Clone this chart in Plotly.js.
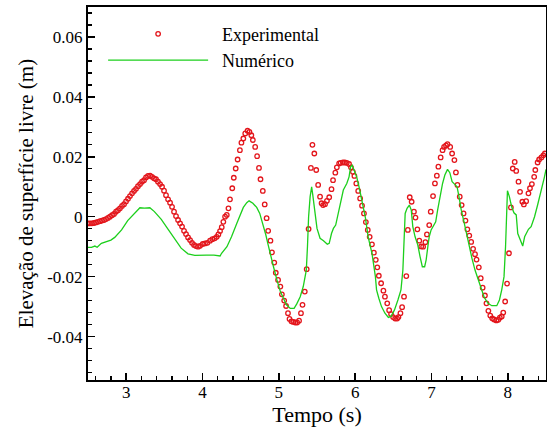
<!DOCTYPE html>
<html>
<head>
<meta charset="utf-8">
<script src="https://cdn.plot.ly/plotly-3.0.1.min.js"></script>
<style>html,body{margin:0;padding:0;background:#fff;}#chart{width:547px;height:427px;}</style>
</head>
<body>
<div id="chart"></div>
<script>
// Experimental data (time in s, elevation in m)
const expTime = [2.500,2.526,2.552,2.579,2.605,2.631,2.657,2.683,2.710,2.736,2.762,2.788,2.815,2.841,2.867,2.893,2.919,2.946,2.972,2.998,3.024,3.050,3.077,3.103,3.129,3.155,3.182,3.208,3.234,3.260,3.286,3.313,3.339,3.365,3.391,3.417,3.444,3.470,3.496,3.522,3.549,3.575,3.601,3.627,3.653,3.680,3.706,3.732,3.758,3.784,3.811,3.837,3.863,3.889,3.915,3.942,3.968,
4.003,4.033,4.064,4.099,4.129,4.160,4.187,4.208,4.230,4.252,4.273,4.296,4.318,4.34,4.36,4.39,4.41,4.435,4.46,4.49,4.51,4.535,4.56,4.59,4.615,4.64,4.66,4.69,4.715,4.74,4.76,4.79,4.815,4.84,4.86,4.89,4.91,4.94,4.96,4.99,5.02,5.04,5.07,5.095,5.12,5.14,5.165,5.19,5.215,5.24,5.265,5.29,5.31,5.34,5.365,5.39,5.42,5.44,5.465,5.49,5.515,5.54,5.56,5.58,5.605,5.63,5.66,5.69,5.71,5.74,5.76,5.79,5.81,5.84,5.865,5.89,5.92,5.945,5.97,5.99,6.015,6.04,6.065,6.09,6.115,6.14,6.165,6.19,6.22,6.245,6.27,6.29,6.31,6.34,6.37,6.39,6.42,6.445,6.47,6.497,6.524,6.55,6.567,6.593,6.615,6.64,6.67,6.69,6.715,6.74,6.77,6.79,6.815,6.84,6.865,6.89,6.92,6.94,6.97,6.99,7.02,7.045,7.07,7.09,7.12,7.145,7.165,7.19,7.21,7.245,7.27,7.30,7.32,7.34,7.37,7.395,7.42,7.445,7.47,7.495,7.52,7.545,7.57,7.59,7.62,7.645,7.67,7.70,7.72,7.745,7.77,7.795,7.82,7.85,7.875,7.895,7.92,7.94,7.965,7.99,8.015,8.04,8.065,8.09,8.11,8.14,8.16,8.19,8.21,8.24,8.27,8.29,8.315,8.345,8.36,8.39,8.41,8.44,8.465,8.485];
const expElev = [-0.0022,-0.0022,-0.0022,-0.0021,-0.0019,-0.0017,-0.0015,-0.0013,-0.0011,-0.0008,-0.0004,0.0,0.0005,0.0009,0.0017,0.0022,0.0028,0.0036,0.0042,0.0051,0.0060,0.0069,0.0078,0.0086,0.0093,0.0102,0.0109,0.0117,0.0122,0.0131,0.0136,0.0137,0.0133,0.0128,0.0125,0.0117,0.0109,0.0100,0.0087,0.0072,0.0058,0.0047,0.0033,0.0017,0.0002,-0.0011,-0.0022,-0.0033,-0.0047,-0.0058,-0.0069,-0.0078,-0.0087,-0.0094,-0.0098,-0.0100,-0.0097,
-0.0091,-0.0089,-0.0087,-0.0080,-0.0075,-0.0072,-0.0067,-0.0059,-0.0048,-0.0035,-0.0017,0.0,0.0006,0.0028,0.0058,0.0095,0.0130,0.0161,0.0191,0.0222,0.0247,0.0261,0.0278,0.0287,0.0283,0.0272,0.0256,0.0233,0.0202,0.0163,0.0125,0.0086,0.0041,-0.0005,-0.0047,-0.0080,-0.0119,-0.0153,-0.0187,-0.0211,-0.0233,-0.0259,-0.0280,-0.0298,-0.0322,-0.0341,-0.0349,-0.0351,-0.0353,-0.0353,-0.0347,-0.0322,-0.0294,-0.0250,-0.0175,-0.0041,0.0163,0.0240,0.0211,0.0156,0.0106,0.0067,0.0045,0.0039,0.0042,0.0053,0.0065,0.0092,0.0122,0.0147,0.0165,0.0178,0.0180,0.0181,0.0181,0.0180,0.0176,0.0165,0.0150,0.0136,0.0111,0.0086,0.0061,0.0037,0.0011,-0.0018,-0.0044,-0.0067,-0.0092,-0.0120,-0.0144,-0.0169,-0.0197,-0.0222,-0.0247,-0.0267,-0.0289,-0.0312,-0.0325,-0.0335,-0.0340,-0.0340,-0.0335,-0.0322,-0.0302,-0.0267,-0.0198,-0.0044,0.0065,0.0050,0.0017,-0.0003,-0.0042,-0.0080,-0.0099,-0.0100,-0.0085,-0.0059,-0.0028,0.0017,0.0069,0.0111,0.0137,0.0167,0.0198,0.0222,0.0233,0.0238,0.0242,0.0233,0.0211,0.0189,0.0148,0.0106,0.0067,0.0039,0.0011,-0.0013,-0.0042,-0.0063,-0.0084,-0.0107,-0.0125,-0.0143,-0.0169,-0.0205,-0.0237,-0.0263,-0.0289,-0.0314,-0.0330,-0.0339,-0.0343,-0.0346,-0.0344,-0.0337,-0.0333,-0.0320,-0.0283,-0.0223,-0.0122,0.0031,0.0161,0.0183,0.0153,0.0117,0.0083,0.0050,0.0041,0.0052,0.0078,0.0095,0.0109,0.0133,0.0156,0.0181,0.0191,0.0198,0.0205,0.0211];

// Numerical results
const numTime = [2.50,2.545,2.59,2.62,2.675,2.72,2.76,2.80,2.85,2.94,3.02,3.11,3.18,3.24,3.31,3.37,3.46,3.55,3.64,3.72,3.81,3.90,4.05,4.15,4.23,4.25,4.32,4.38,4.45,4.49,4.535,4.58,4.61,4.66,4.71,4.75,4.79,4.83,4.86,4.89,4.93,4.975,5.02,5.06,5.10,5.15,5.20,5.235,5.28,5.32,5.36,5.375,5.39,5.41,5.43,5.445,5.47,5.50,5.54,5.585,5.635,5.66,5.69,5.715,5.745,5.78,5.81,5.845,5.89,5.92,5.94,5.96,5.985,6.02,6.055,6.09,6.135,6.17,6.22,6.265,6.28,6.31,6.345,6.39,6.435,6.47,6.515,6.56,6.60,6.625,6.64,6.655,6.68,6.71,6.735,6.755,6.785,6.82,6.85,6.88,6.91,6.93,6.955,6.97,6.995,7.025,7.055,7.08,7.11,7.145,7.175,7.21,7.24,7.27,7.305,7.335,7.36,7.39,7.43,7.465,7.505,7.53,7.57,7.615,7.65,7.69,7.74,7.79,7.855,7.89,7.92,7.95,7.97,7.995,8.02,8.05,8.08,8.11,8.13,8.165,8.195,8.22,8.27,8.305,8.35,8.39,8.435,8.48,8.50];
const numElev = [-0.0102,-0.0102,-0.0098,-0.0102,-0.0089,-0.0085,-0.0083,-0.0078,-0.0069,-0.0044,-0.0013,0.0013,0.0030,0.0029,0.0030,0.0017,-0.0009,-0.0042,-0.0075,-0.0105,-0.0124,-0.0129,-0.0128,-0.0128,-0.0131,-0.0122,-0.0100,-0.0067,-0.0022,0.0006,0.0031,0.0047,0.0053,0.0045,0.0031,0.0011,-0.0022,-0.0061,-0.0094,-0.0128,-0.0167,-0.0211,-0.0250,-0.0272,-0.0294,-0.0306,-0.0306,-0.0291,-0.0267,-0.0233,-0.0178,-0.0100,0.0,0.0067,0.0100,0.0072,0.0011,-0.0039,-0.0072,-0.0080,-0.0092,-0.0089,-0.0056,-0.0039,-0.0028,0.0017,0.0056,0.0089,0.0111,0.0133,0.0167,0.0172,0.0156,0.0133,0.0095,0.0050,-0.0005,-0.0067,-0.0122,-0.0200,-0.0244,-0.0272,-0.0300,-0.0322,-0.0336,-0.0333,-0.0311,-0.0278,-0.0244,-0.0178,-0.0078,0.0011,0.0028,0.0039,0.0022,-0.0033,-0.0067,-0.0094,-0.0133,-0.0167,-0.0167,-0.0144,-0.0094,-0.0067,-0.0044,-0.0028,-0.0017,0.0022,0.0067,0.0111,0.0139,0.0158,0.0147,0.0117,0.0108,0.0100,0.0067,0.0022,-0.0022,-0.0067,-0.0117,-0.0139,-0.0178,-0.0211,-0.0244,-0.0269,-0.0289,-0.0297,-0.0297,-0.0278,-0.0244,-0.0200,-0.0100,0.0087,0.0067,0.0033,0.0013,0.0006,-0.0056,-0.0078,-0.0098,-0.0067,-0.0042,-0.0033,0.0,0.0039,0.0083,0.0133,0.0158];

const yTickVals = [-0.04,-0.02,0,0.02,0.04,0.06];
const yTickLabels = ['-0.04','-0.02','0','0.02','0.04','0.06'];
const xTickVals = [3,4,5,6,7,8];
const xTickLabels = ['3','4','5','6','7','8'];
const seriesNames = ['Experimental','Numérico'];

const font = '"Liberation Serif", serif';
const gap = '\u00a0\u00a0';

const traces = [
  {x: expTime, y: expElev, name: gap + seriesNames[0], type: 'scatter', mode: 'markers',
   marker: {symbol: 'circle-open', size: 4.5, color: '#e3151b', line: {width: 1.3, color: '#e3151b'}}},
  {x: numTime, y: numElev, name: gap + seriesNames[1], type: 'scatter', mode: 'lines',
   line: {color: '#1ccf1c', width: 1.3}}
];

const layout = {
  width: 547, height: 427,
  margin: {l: 88, r: 1, t: 7, b: 47},
  paper_bgcolor: '#fff', plot_bgcolor: '#fff',
  font: {family: font, color: '#000'},
  showlegend: true,
  legend: {x: 0.033, y: 0.977, xanchor: 'left', yanchor: 'top', bgcolor: 'rgba(0,0,0,0)',
           font: {family: font, size: 18, color: '#000'}, itemwidth: 100, tracegroupgap: 0},
  xaxis: {range: [2.5, 8.5], tickmode: 'array', tickvals: xTickVals, ticktext: xTickLabels,
          ticks: 'inside', ticklen: 7, tickwidth: 1.5, tickcolor: '#000', ticklabelstandoff: -4,
          minor: {dtick: 0.2, tick0: 0, ticks: 'inside', ticklen: 4, tickwidth: 1.2, tickcolor: '#000'},
          showline: true, linecolor: '#000', linewidth: 2, mirror: true,
          showgrid: false, zeroline: false,
          tickfont: {family: font, size: 17, color: '#000'},
          title: {text: 'Tempo (s)', font: {family: font, size: 22, color: '#000'}, standoff: 2}},
  yaxis: {range: [-0.0545, 0.07], tickmode: 'array', tickvals: yTickVals, ticktext: yTickLabels,
          ticks: 'inside', ticklen: 7, tickwidth: 1.5, tickcolor: '#000',
          minor: {dtick: 0.004, tick0: 0, ticks: 'inside', ticklen: 4, tickwidth: 1.2, tickcolor: '#000'},
          showline: true, linecolor: '#000', linewidth: 2, mirror: true,
          showgrid: false, zeroline: false,
          tickfont: {family: font, size: 17, color: '#000'},
          title: {text: 'Elevação de superfície livre (m)', font: {family: font, size: 21, color: '#000'}, standoff: 8}}
};

Plotly.newPlot('chart', traces, layout, {staticPlot: true, displayModeBar: false});
</script>
</body>
</html>
